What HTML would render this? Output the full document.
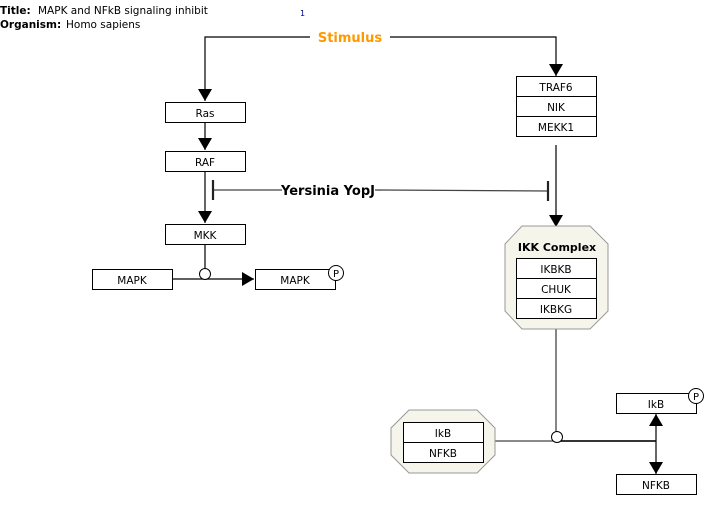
<!DOCTYPE html>
<html><head><style>
html,body{margin:0;padding:0;background:#fff;width:718px;height:508px;overflow:hidden}
svg text{font-family:"DejaVu Sans","Liberation Sans",sans-serif}
</style></head><body>
<svg width="718" height="508" viewBox="0 0 718 508" xmlns="http://www.w3.org/2000/svg">
<defs>
<marker id="a2" markerWidth="12" markerHeight="14" refX="12" refY="7" orient="auto" markerUnits="userSpaceOnUse"><path d="M0,0 L12,7 L0,14 z" fill="#000"/></marker>
</defs>
<text x="0" y="14" font-size="10.5" font-weight="bold">Title:</text>
<text x="38" y="14" font-size="10.5">MAPK and NFkB signaling inhibit</text>
<text x="0" y="28" font-size="10.5" font-weight="bold">Organism:</text>
<text x="66" y="28" font-size="10.5">Homo sapiens</text>
<text x="300" y="16" font-size="8" fill="#00008b">1</text>

<g stroke="#000" stroke-width="1.2" fill="none">
<polyline points="310,37 205,37 205,101" marker-end="url(#a2)"/>
<polyline points="390,37 556,37 556,76" marker-end="url(#a2)"/>
<line x1="205" y1="122" x2="205" y2="150" marker-end="url(#a2)"/>
<line x1="205" y1="171" x2="205" y2="223" marker-end="url(#a2)"/>
<line x1="205" y1="244" x2="205" y2="269"/>
<line x1="172" y1="279" x2="254" y2="279" marker-end="url(#a2)"/>
<line x1="556" y1="145" x2="556" y2="227" marker-end="url(#a2)"/>
</g>
<g stroke="#444" stroke-width="1.3" fill="none">
<line x1="213" y1="190" x2="282" y2="190"/>
<line x1="213" y1="180" x2="213" y2="200" stroke="#222" stroke-width="2.2"/>
<line x1="375" y1="190" x2="548" y2="191"/>
<line x1="548" y1="181" x2="548" y2="201" stroke="#222" stroke-width="2.2"/>
<line x1="556" y1="329" x2="556" y2="432"/>
<line x1="495" y1="441" x2="656" y2="441"/>
</g>
<line x1="557" y1="441" x2="656" y2="441" stroke="#000" stroke-width="1.5"/>
<line x1="656" y1="441" x2="656" y2="414" stroke="#000" stroke-width="1.2" marker-end="url(#a2)"/>
<line x1="656" y1="441" x2="656" y2="474" stroke="#000" stroke-width="1.2" marker-end="url(#a2)"/>
<circle cx="205" cy="274" r="5.5" fill="#fff" stroke="#000"/>
<circle cx="557" cy="437" r="5.5" fill="#fff" stroke="#000"/>

<text x="350" y="42" font-size="13" font-weight="bold" fill="#ff9900" text-anchor="middle">Stimulus</text>
<text x="328" y="195" font-size="13" font-weight="bold" text-anchor="middle">Yersinia YopJ</text>

<g stroke="#000" stroke-width="1" fill="#fff">
<rect x="165.5" y="102.5" width="80" height="20"/>
<rect x="165.5" y="151.5" width="80" height="20"/>
<rect x="165.5" y="224.5" width="80" height="20"/>
<rect x="92.5" y="269.5" width="80" height="20"/>
<rect x="255.5" y="269.5" width="80" height="20"/>
<rect x="516.5" y="76.5" width="80" height="20"/>
<rect x="516.5" y="96.5" width="80" height="20"/>
<rect x="516.5" y="116.5" width="80" height="20"/>
<polygon points="522,226 590,226 608,244 608,311 590,329 522,329 505,311 505,244" fill="#f5f5ec" stroke="#999"/>
<rect x="516.5" y="258.5" width="80" height="20"/>
<rect x="516.5" y="278.5" width="80" height="20"/>
<rect x="516.5" y="298.5" width="80" height="20"/>
<polygon points="409,410 477,410 495,428 495,455 477,473 409,473 391,455 391,428" fill="#f5f5ec" stroke="#999"/>
<rect x="403.5" y="422.5" width="80" height="20"/>
<rect x="403.5" y="442.5" width="80" height="20"/>
<rect x="616.5" y="393.5" width="80" height="20"/>
<rect x="616.5" y="474.5" width="80" height="20"/>
<circle cx="336" cy="273" r="7.5"/>
<circle cx="696" cy="396" r="7.5"/>
</g>
<g font-size="10.5" text-anchor="middle">
<text x="205" y="117">Ras</text>
<text x="205" y="166">RAF</text>
<text x="205" y="239">MKK</text>
<text x="132" y="284">MAPK</text>
<text x="295" y="284">MAPK</text>
<text x="336" y="277" font-size="10">P</text>
<text x="556" y="91">TRAF6</text>
<text x="556" y="111">NIK</text>
<text x="556" y="131">MEKK1</text>
<text x="557" y="251" font-weight="bold" font-size="11">IKK Complex</text>
<text x="556" y="273">IKBKB</text>
<text x="556" y="293">CHUK</text>
<text x="556" y="313">IKBKG</text>
<text x="443" y="437">IkB</text>
<text x="443" y="457">NFKB</text>
<text x="656" y="408">IkB</text>
<text x="696" y="400" font-size="10">P</text>
<text x="656" y="489">NFKB</text>
</g>
</svg>
</body></html>
